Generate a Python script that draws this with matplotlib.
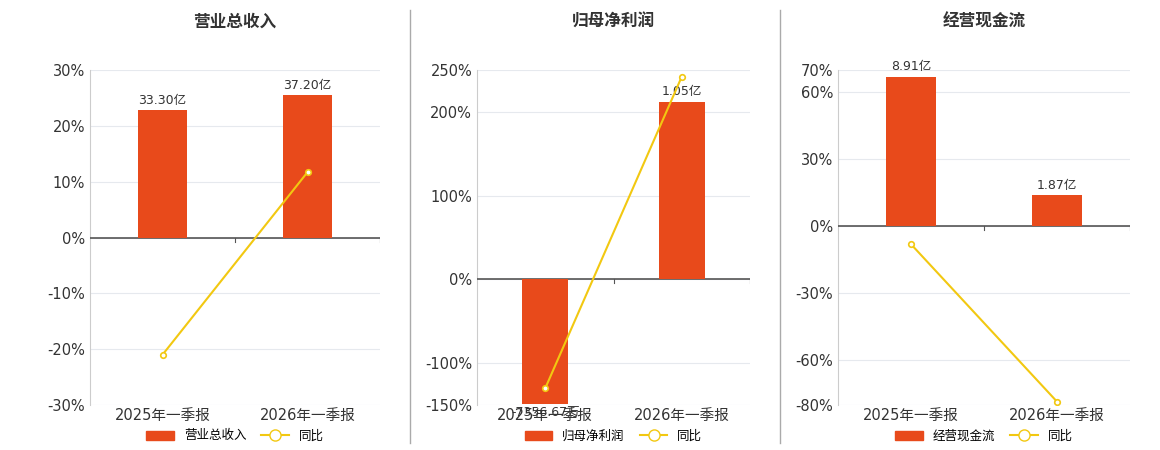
import matplotlib.pyplot as plt
from matplotlib.lines import Line2D
from matplotlib.patches import Patch

plt.rcParams['font.family'] = ['DejaVu Sans', 'Noto Sans CJK SC']

periods = ["2025年一季报", "2026年一季报"]
titles = ["营业总收入", "归母净利润", "经营现金流"]
bar_vals = [[33.30, 37.20], [-0.735667, 1.05], [8.91, 1.87]]
bar_labels = [["33.30亿", "37.20亿"], ["-7356.67万", "1.05亿"], ["8.91亿", "1.87亿"]]
yoy = [[-21.0, 11.7], [-130.0, 242.0], [-8.0, -78.5]]
yticks = [[-30, -20, -10, 0, 10, 20, 30],
          [-150, -100, 0, 100, 200, 250],
          [-80, -60, -30, 0, 30, 60, 70]]
bar_scale = [1.46, 1.05 / 212, 0.133]  # 亿 per percent

bar_color = "#E84A1B"
line_color = "#F2C811"

fig = plt.figure(figsize=(11.6, 4.5), dpi=100)
lefts = [90, 477, 838]
widths = [290, 273, 292]
for i in range(3):
    ax = fig.add_axes([lefts[i] / 1160, 45 / 450, widths[i] / 1160, 335 / 450])
    lo, hi = yticks[i][0], yticks[i][-1]
    ax.set_ylim(lo, hi)
    ax.set_xlim(-0.5, 1.5)
    ax.set_yticks(yticks[i])
    ax.set_yticklabels([f"{t}%" for t in yticks[i]], fontsize=10.5, color="#333333")
    ax.grid(axis="y", color="#E6E9EE", lw=0.8)
    ax.set_axisbelow(True)
    for s in ["top", "right", "bottom"]:
        ax.spines[s].set_visible(False)
    ax.spines["left"].set_color("#CCCCCC")
    ax.tick_params(axis="y", length=0)
    ax.set_xticks([0, 1])
    ax.set_xticklabels(periods, fontsize=10.5, color="#333333")
    ax.tick_params(axis="x", length=0, pad=2)
    ax.axhline(0, color="#555555", lw=1.2, zorder=3)
    for xt in [0.5, 1.5]:
        ax.plot([xt, xt], [0, -(hi - lo) * 0.012], color="#555555", lw=0.8, zorder=3)

    ax2 = ax.twinx()
    ax2.set_ylim(lo * bar_scale[i], hi * bar_scale[i])
    ax2.axis("off")
    bars = ax2.bar([0, 1], bar_vals[i], width=0.34, color=bar_color, zorder=2)
    for b, v, lab in zip(bars, bar_vals[i], bar_labels[i]):
        off = (hi - lo) * bar_scale[i] * 0.01
        if v >= 0:
            ax2.text(b.get_x() + b.get_width() / 2, v + off, lab, ha="center", va="bottom", fontsize=9, color="#333333")
        else:
            ax2.text(b.get_x() + b.get_width() / 2, v - off, lab, ha="center", va="top", fontsize=9, color="#333333")

    ax3 = ax.twinx()
    ax3.set_ylim(lo, hi)
    ax3.axis("off")
    ax3.plot([0, 1], yoy[i], color=line_color, lw=1.5, marker="o", ms=4,
             mfc="white", mec=line_color, mew=1.2, zorder=5)

    cx = (lefts[i] + widths[i] / 2) / 1160
    fig.text(cx, 1 - 22 / 450, titles[i], ha="center", va="center", fontsize=12, fontweight="bold", color="#333333")
    handles = [Patch(color=bar_color), Line2D([0], [0], color=line_color, lw=1.5, marker="o", ms=8, mfc="white", mec=line_color)]
    fig.legend(handles, [titles[i], "同比"], loc="center", bbox_to_anchor=(cx, 14 / 450), ncol=2,
               frameon=False, fontsize=9, handlelength=2.2, columnspacing=1.2)

for x in [410, 780]:
    fig.add_artist(Line2D([x / 1160, x / 1160], [7 / 450, 440 / 450], color="#AAAAAA", lw=1))

fig.savefig("out.png", dpi=100)
